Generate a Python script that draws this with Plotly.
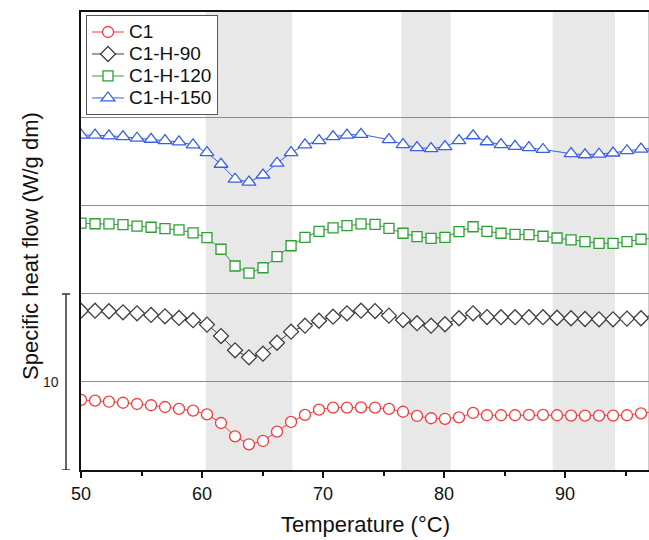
import plotly.graph_objects as go

# ---------------- data ----------------
temperature = [50.00, 51.16, 52.31, 53.47, 54.63, 55.79, 56.94, 58.10, 59.26, 60.41,
               61.57, 62.73, 63.88, 65.04, 66.20, 67.36, 68.51, 69.67, 70.83, 71.98,
               73.14, 74.30, 75.45, 76.61, 77.77, 78.93, 80.08, 81.24, 82.40, 83.55,
               84.71, 85.87, 87.02, 88.18, 89.34, 90.50, 91.65, 92.81, 93.97, 95.12,
               96.28, 97.44]

c1 = [3.98, 3.94, 3.88, 3.82, 3.75, 3.68, 3.58, 3.47, 3.37, 3.16,
      2.67, 1.91, 1.46, 1.65, 2.18, 2.73, 3.13, 3.43, 3.54, 3.54,
      3.56, 3.54, 3.47, 3.31, 3.07, 2.94, 2.91, 2.99, 3.24, 3.11,
      3.11, 3.11, 3.13, 3.13, 3.11, 3.09, 3.09, 3.09, 3.09, 3.11,
      3.22, 3.31]

c1_h_90 = [9.05, 9.05, 9.02, 8.96, 8.90, 8.81, 8.73, 8.64, 8.51, 8.26,
           7.61, 6.80, 6.40, 6.61, 7.23, 7.86, 8.20, 8.48, 8.71, 8.90,
           9.05, 9.03, 8.77, 8.52, 8.34, 8.20, 8.28, 8.62, 8.90, 8.69,
           8.68, 8.68, 8.68, 8.68, 8.65, 8.62, 8.58, 8.56, 8.56, 8.60,
           8.62, 8.69]

c1_h_120 = [14.02, 13.99, 13.98, 13.94, 13.86, 13.79, 13.71, 13.64, 13.47, 13.20,
            12.54, 11.59, 11.18, 11.49, 12.12, 12.74, 13.22, 13.56, 13.75, 13.88,
            13.98, 13.96, 13.73, 13.45, 13.26, 13.16, 13.22, 13.54, 13.82, 13.56,
            13.45, 13.39, 13.37, 13.28, 13.18, 13.07, 12.97, 12.88, 12.88, 12.97,
            13.11, 13.16]

c1_h_150 = [19.03, 19.03, 18.98, 18.94, 18.85, 18.79, 18.71, 18.64, 18.47, 18.03,
            17.37, 16.52, 16.36, 16.76, 17.43, 18.03, 18.47, 18.71, 18.94, 19.03,
            19.07, 18.92, 18.77, 18.49, 18.32, 18.26, 18.37, 18.71, 18.99, 18.65,
            18.49, 18.39, 18.32, 18.21, 18.09, 17.97, 17.91, 17.94, 18.01, 18.14,
            18.23, 18.30]
# points of C1-H-150 drawn without a symbol in the original
c1_h_150_no_symbol = [21, 34]

series_names = ["C1", "C1-H-90", "C1-H-120", "C1-H-150"]
shaded_ranges = [(60.31, 67.46), (76.47, 80.55), (88.98, 94.13)]
separator_levels = [5, 10, 15, 20]
scale_bar = (0, 10)
scale_label = "10"
x_ticks = [50, 60, 70, 80, 90]
x_range = [50, 96.94]
y_range = [0, 26.02]

# ---------------- styling ----------------
FONT = "Arial, 'Liberation Sans', sans-serif"
colors = ["#f23c3c", "#3f3f3f", "#2e9e35", "#3a5fe6"]
symbols = ["circle", "diamond", "square", "triangle-up"]
sizes = [11, 11.5, 10, 12]

fig = go.Figure()

all_series = [c1, c1_h_90, c1_h_120, c1_h_150]
for i, (name, ys) in enumerate(zip(series_names, all_series)):
    kw = {}
    if name == "C1-H-150":
        kw = dict(selectedpoints=[j for j in range(len(ys)) if j not in c1_h_150_no_symbol],
                  selected=dict(marker=dict(opacity=1)),
                  unselected=dict(marker=dict(opacity=0)))
    fig.add_trace(go.Scatter(
        x=temperature, y=ys, name=f'<span style="font-size:19px">{name}</span>',
        mode="lines+markers",
        line=dict(color=colors[i], width=1),
        marker=dict(symbol=symbols[i], size=sizes[i],
                    color="white", line=dict(color=colors[i], width=1.3)),
        **kw))

shapes = []
for a, b in shaded_ranges:
    shapes.append(dict(type="rect", xref="x", yref="paper", x0=a, x1=b, y0=0, y1=1,
                       fillcolor="#e8e8e8", line=dict(width=0), layer="below"))
# right frame edge (cropped, thin grey)
shapes.append(dict(type="line", xref="paper", yref="paper", x0=1, x1=1, y0=0, y1=1,
                   line=dict(color="#9a9a9a", width=1)))
# scale bar
sx, cap = -0.0264, 0.0072
shapes.append(dict(type="line", xref="paper", yref="y", x0=sx, x1=sx,
                   y0=scale_bar[0], y1=scale_bar[1], line=dict(color="#333333", width=1.5)))
for yv in scale_bar:
    shapes.append(dict(type="line", xref="paper", yref="y", x0=sx - cap, x1=sx + cap,
                       y0=yv, y1=yv, line=dict(color="#333333", width=1.5)))

annotations = [
    dict(text=scale_label, xref="paper", yref="y", x=-0.053,
         y=(scale_bar[0] + scale_bar[1]) / 2, showarrow=False,
         font=dict(family=FONT, size=14, color="#222"), xanchor="center", yanchor="middle"),
    dict(text="Temperature (°C)", xref="paper", yref="paper", x=0.5, y=-0.118,
         showarrow=False, font=dict(family=FONT, size=22, color="#111"),
         xanchor="center", yanchor="middle"),
    dict(text="Specific heat flow (W/g dm)", xref="paper", yref="paper", x=-0.09, y=0.489,
         textangle=-90, showarrow=False, font=dict(family=FONT, size=22, color="#111"),
         xanchor="center", yanchor="middle"),
]

fig.update_layout(
    width=649, height=540, autosize=False,
    margin=dict(l=81, r=0, t=12, b=70),
    plot_bgcolor="white", paper_bgcolor="white",
    font=dict(family=FONT, color="#111"),
    shapes=shapes, annotations=annotations,
    showlegend=True,
    legend=dict(x=0.0088, y=0.9934, xanchor="left", yanchor="top",
                bgcolor="white", bordercolor="#555555", borderwidth=1,
                font=dict(family=FONT, size=14.6, color="#111"),
                itemwidth=32, tracegroupgap=0),
)
fig.update_xaxes(range=x_range, tickvals=x_ticks, ticks="outside", ticklen=6, tickwidth=1.5,
                 tickcolor="#111", showline=True, linecolor="#111", linewidth=2, mirror=True,
                 showgrid=False, zeroline=False,
                 tickfont=dict(family=FONT, size=18, color="#111"),
                 minor=dict(tickvals=[55, 65, 75, 85, 95], ticks="outside", ticklen=4,
                            tickwidth=1.5, tickcolor="#111", showgrid=False))
fig.update_yaxes(range=y_range, tickvals=separator_levels, showticklabels=False, ticks="",
                 showgrid=True, gridcolor="#8a8a8a", gridwidth=1.2,
                 showline=True, linecolor="#111", linewidth=2, zeroline=False)

fig.write_html("out.html", config={"displayModeBar": False},
               post_script="document.body.style.margin='0';document.body.style.overflow='hidden';")
